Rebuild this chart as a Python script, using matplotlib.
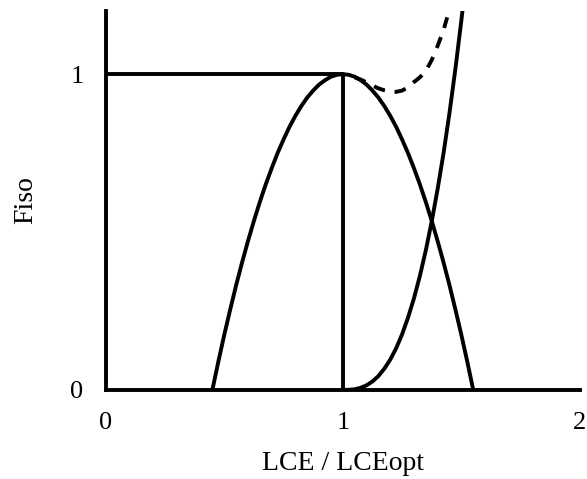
import matplotlib.pyplot as plt

plt.rcParams['font.family'] = ['Liberation Serif', 'DejaVu Serif']

# active force-length parabola
x_active = [0.45, 0.475, 0.50, 0.525, 0.55, 0.575, 0.60, 0.625, 0.65, 0.675, 0.70, 0.725,
            0.75, 0.775, 0.80, 0.825, 0.85, 0.875, 0.90, 0.925, 0.95, 0.975, 1.00,
            1.025, 1.05, 1.075, 1.10, 1.125, 1.15, 1.175, 1.20, 1.225, 1.25, 1.275,
            1.30, 1.325, 1.35, 1.375, 1.40, 1.425, 1.45, 1.475, 1.50, 1.525, 1.55]
f_active = [0.0, 0.089, 0.174, 0.254, 0.331, 0.403, 0.471, 0.535, 0.595, 0.651, 0.702, 0.750,
            0.793, 0.833, 0.868, 0.899, 0.926, 0.948, 0.967, 0.981, 0.992, 0.998, 1.0,
            0.998, 0.992, 0.981, 0.967, 0.948, 0.926, 0.899, 0.868, 0.833, 0.793, 0.750,
            0.702, 0.651, 0.595, 0.535, 0.471, 0.403, 0.331, 0.254, 0.174, 0.089, 0.0]

# passive force
x_passive = [1.00, 1.025, 1.05, 1.075, 1.10, 1.125, 1.15, 1.175, 1.20, 1.225, 1.25, 1.275,
             1.30, 1.325, 1.35, 1.375, 1.40, 1.425, 1.45, 1.475, 1.50, 1.51]
f_passive = [0.0, 0.0003, 0.002, 0.0066, 0.0145, 0.0266, 0.044, 0.067, 0.096, 0.132, 0.176, 0.229,
             0.29, 0.361, 0.442, 0.534, 0.637, 0.751, 0.878, 1.018, 1.171, 1.236]

# total (active + passive)
x_total = [1.05, 1.075, 1.10, 1.125, 1.15, 1.175, 1.20, 1.225, 1.25, 1.275, 1.30, 1.325,
           1.35, 1.375, 1.40, 1.425, 1.44]
f_total = [0.99, 0.983, 0.974, 0.964, 0.955, 0.949, 0.945, 0.944, 0.948, 0.958, 0.975, 0.99,
           1.01, 1.045, 1.09, 1.14, 1.18]

# isometric reference
x_ref = [0, 1, 1]
f_ref = [1, 1, 0]

fig = plt.figure(figsize=(5.87, 4.79), dpi=100)
ax = fig.add_axes([0.18, 0.186, 0.808, 0.791])

lw = 2.8
ax.plot(x_ref, f_ref, color='black', lw=lw)
ax.plot(x_active, f_active, color='black', lw=lw)
ax.plot(x_passive, f_passive, color='black', lw=lw)
ax.plot(x_total, f_total, color='black', lw=lw, dashes=(3, 2.5))

ax.set_xlim(0, 2)
ax.set_ylim(0, 1.2)
ax.set_xticks([0, 1, 2])
ax.set_yticks([0, 1])
ax.tick_params(length=0, labelsize=19, pad=16)
ax.tick_params(axis='y', pad=16)
ax.spines['top'].set_visible(False)
ax.spines['right'].set_visible(False)
ax.spines['left'].set_linewidth(lw)
ax.spines['bottom'].set_linewidth(lw)
ax.set_xlabel('LCE / LCEopt', fontsize=20, labelpad=12)
ax.set_ylabel('Fiso', fontsize=20, labelpad=23)

fig.savefig('out.png', dpi=100)
